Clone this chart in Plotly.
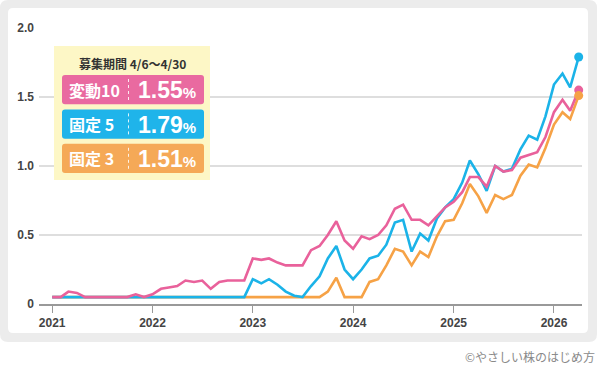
import pandas as pd
import plotly.graph_objects as go

# ---------------- data ----------------
months = pd.date_range("2021-01-01", periods=64, freq="MS")

hendo10 = [0.05, 0.05, 0.09, 0.08, 0.05, 0.05, 0.05, 0.05, 0.05, 0.05, 0.07, 0.05,
           0.07, 0.11, 0.12, 0.13, 0.17, 0.16, 0.17, 0.11, 0.16, 0.17, 0.17, 0.17,
           0.33, 0.32, 0.33, 0.30, 0.28, 0.28, 0.28, 0.39, 0.42, 0.50, 0.60, 0.46,
           0.40, 0.49, 0.47, 0.50, 0.57, 0.69, 0.72, 0.61, 0.61, 0.57, 0.64, 0.70,
           0.74, 0.81, 0.92, 0.92, 0.85, 1.00, 0.96, 0.97, 1.06, 1.08, 1.10, 1.21,
           1.39, 1.48, 1.40, 1.55]

kotei5 = [0.05] * 24 + [
           0.18, 0.15, 0.18, 0.14, 0.09, 0.06, 0.05, 0.13, 0.20, 0.33, 0.42, 0.25,
           0.18, 0.25, 0.33, 0.35, 0.43, 0.59, 0.61, 0.38, 0.51, 0.46, 0.62, 0.70,
           0.76, 0.88, 1.04, 0.94, 0.82, 1.00, 0.96, 0.98, 1.12, 1.22, 1.19, 1.36,
           1.59, 1.67, 1.57, 1.79]

kotei3 = [0.05] * 33 + [
           0.09, 0.19, 0.05, 0.05, 0.05, 0.16, 0.18, 0.28, 0.40, 0.38, 0.28, 0.38,
           0.34, 0.49, 0.60,
           0.61, 0.73, 0.87, 0.78, 0.66, 0.79, 0.76, 0.79, 0.93, 1.01, 0.99, 1.13,
           1.30, 1.39, 1.34, 1.51]

series_names = ["変動10", "固定 5", "固定 3"]
series_rates = ["1.55", "1.79", "1.51"]
legend_title = "募集期間 4/6〜4/30"
year_ticks = ["2021", "2022", "2023", "2024", "2025", "2026"]
y_ticks = [0, 0.5, 1.0, 1.5, 2.0]
y_ticktext = ["0", "0.5", "1.0", "1.5", "2.0"]
credit = "©やさしい株のはじめ方"

# ---------------- styles ----------------
PINK, BLUE, ORANGE = "#e9619b", "#1bb3e8", "#f6a246"
BOX_PINK, BOX_BLUE, BOX_ORANGE = "#e96aa0", "#1fb4ea", "#f5a957"
W, H = 600, 368
ML, MR, MT, MB = 39, 18, 28, 64
PW, PH = W - ML - MR, H - MT - MB


def px(x):
    return (x - ML) / PW


def py(y):
    return (H - MB - y) / PH


def rrect(x0, y0, x1, y1, r):
    pts = [
        f"M {px(x0 + r)} {py(y0)}",
        f"L {px(x1 - r)} {py(y0)}",
        f"Q {px(x1)} {py(y0)} {px(x1)} {py(y0 + r)}",
        f"L {px(x1)} {py(y1 - r)}",
        f"Q {px(x1)} {py(y1)} {px(x1 - r)} {py(y1)}",
        f"L {px(x0 + r)} {py(y1)}",
        f"Q {px(x0)} {py(y1)} {px(x0)} {py(y1 - r)}",
        f"L {px(x0)} {py(y0 + r)}",
        f"Q {px(x0)} {py(y0)} {px(x0 + r)} {py(y0)}",
        "Z",
    ]
    return " ".join(pts)


fig = go.Figure()

for vals, color in [(kotei3, ORANGE), (kotei5, BLUE), (hendo10, PINK)]:
    fig.add_trace(go.Scatter(x=months, y=vals, mode="lines",
                             line=dict(color=color, width=2.6),
                             hoverinfo="skip", cliponaxis=False))

for vals, color in [(kotei5, BLUE), (hendo10, PINK), (kotei3, ORANGE)]:
    fig.add_trace(go.Scatter(x=[months[-1]], y=[vals[-1]], mode="markers",
                             marker=dict(color=color, size=9),
                             hoverinfo="skip", cliponaxis=False))

shapes = []
# outer gray frame and inner white panel
shapes.append(dict(type="path", path=rrect(0, 0, 597, 342, 8), xref="paper", yref="paper",
                   fillcolor="#ececec", line=dict(width=0), layer="below"))
shapes.append(dict(type="path", path=rrect(8, 8, 588, 333, 5), xref="paper", yref="paper",
                   fillcolor="#ffffff", line=dict(width=0), layer="below"))
# legend yellow box
shapes.append(dict(type="rect", x0=px(54), x1=px(210), y0=py(46), y1=py(180),
                   xref="paper", yref="paper", fillcolor="#fdf7c6", line=dict(width=0),
                   layer="above"))

annotations = [dict(text=f"<b>{legend_title}</b>", x=px(132), y=py(63), xref="paper", yref="paper",
                    showarrow=False, xanchor="center", yanchor="middle",
                    font=dict(family="Noto Sans CJK JP", size=12, color="#333333"))]

box_colors = [BOX_PINK, BOX_BLUE, BOX_ORANGE]
for i, (name, rate, col) in enumerate(zip(series_names, series_rates, box_colors)):
    top = 75 + i * 34.4
    bot = top + 29.3
    mid = (top + bot) / 2
    shapes.append(dict(type="path", path=rrect(62, top, 204, bot, 3), xref="paper", yref="paper",
                       fillcolor=col, line=dict(width=0), layer="above"))
    shapes.append(dict(type="line", x0=px(128.5), x1=px(128.5), y0=py(top + 4), y1=py(bot - 4),
                       xref="paper", yref="paper", layer="above",
                       line=dict(color="rgba(255,255,255,0.85)", width=1, dash="dot")))
    annotations.append(dict(text=f"<b>{name}</b>", x=px(67), y=py(mid), xref="paper", yref="paper",
                            showarrow=False, xanchor="left", yanchor="middle",
                            font=dict(family="Noto Sans CJK JP", size=16, color="white")))
    annotations.append(dict(text=f"<b>{rate}</b><span style='font-size:15px'><b>%</b></span>",
                            x=px(198), y=py(mid + 0.5), xref="paper", yref="paper",
                            showarrow=False, xanchor="right", yanchor="middle",
                            font=dict(family="Liberation Sans", size=23, color="white")))

annotations.append(dict(text=credit, x=px(597), y=py(356), xref="paper", yref="paper",
                        showarrow=False, xanchor="right", yanchor="middle",
                        font=dict(family="Noto Sans CJK JP", size=12, color="#8a8a8a")))

tickfont = dict(family="Liberation Sans", size=12, color="#444444", weight="bold")

fig.update_layout(
    width=W, height=H,
    margin=dict(l=ML, r=MR, t=MT, b=MB, pad=0),
    paper_bgcolor="white", plot_bgcolor="rgba(0,0,0,0)",
    showlegend=False,
    shapes=shapes, annotations=annotations,
    xaxis=dict(type="date", range=["2020-11-14", "2026-04-13"],
               tickvals=[f"{y}-01-01" for y in year_ticks], ticktext=year_ticks,
               ticks="outside", ticklen=7, tickcolor="#999999", tickwidth=1,
               showgrid=False, zeroline=False,
               showline=True, linecolor="#999999", linewidth=1.5,
               tickfont=tickfont, fixedrange=True),
    yaxis=dict(range=[0, 2.0], tickvals=y_ticks, ticktext=y_ticktext,
               showgrid=True, gridcolor="#dedede", gridwidth=1.5,
               zeroline=False, showline=False, ticks="",
               ticklabelstandoff=4,
               tickfont=tickfont, fixedrange=True),
)

fig.write_html("out.html", config={"displayModeBar": False},
               post_script="document.body.style.margin='0';document.body.style.padding='0';")
